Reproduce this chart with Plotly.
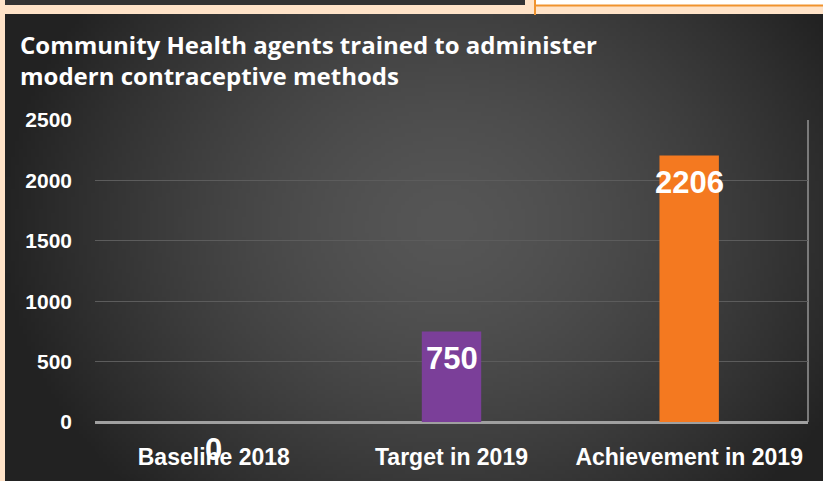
import base64, struct, zlib
import numpy as np
import plotly.graph_objects as go

categories = ["Baseline 2018", "Target in 2019", "Achievement in 2019"]
values = [0, 750, 2206]
value_labels = ["0", "750", "2206"]
bar_colors = ["#7B3F99", "#7B3F99", "#F47920"]
y_ticks = [0, 500, 1000, 1500, 2000, 2500]
title_text = "Community Health agents trained to administer<br>modern contraceptive methods"

W, H = 823, 481
ML, MR, MT, MB = 95, 15, 120, 59
PW, PH = W - ML - MR, H - MT - MB


def px_x(x):
    return (x - ML) / PW


def px_y(y):
    return (H - MB - y) / PH


# radial gradient background image
gw, gh = 206, 117
xs = np.linspace(0, 818, gw)[None, :]
ys = np.linspace(0, 467, gh)[:, None]
cx, cy = 440, 210
d = np.sqrt(((xs - cx) / 450) ** 2 + ((ys - cy) / 380) ** 2)
d = np.clip(d, 0, 1)
c = (86 - (86 - 34) * d ** 1.5).astype(np.uint8)
img = np.stack([c, c, c], axis=-1)
raw = b"".join(b"\x00" + img[r].tobytes() for r in range(gh))


def chunk(t, data):
    ck = struct.pack(">I", len(data)) + t + data
    return ck + struct.pack(">I", zlib.crc32(t + data) & 0xFFFFFFFF)


png = b"\x89PNG\r\n\x1a\n" + chunk(b"IHDR", struct.pack(">IIBBBBB", gw, gh, 8, 2, 0, 0, 0)) \
    + chunk(b"IDAT", zlib.compress(raw, 9)) + chunk(b"IEND", b"")
uri = "data:image/png;base64," + base64.b64encode(png).decode()

fig = go.Figure()
fig.add_trace(go.Bar(
    x=categories, y=values, width=0.25,
    marker=dict(color=bar_colors, line=dict(width=0)),
    hoverinfo="skip",
))

for cat, v, lab in zip(categories, values, value_labels):
    fig.add_annotation(x=cat, y=v, text=lab, showarrow=False, yshift=-27,
                       xanchor="center", yanchor="middle",
                       font=dict(family="Liberation Sans", size=31, color="white", weight="bold"))

fig.add_annotation(xref="paper", yref="paper", x=px_x(18), y=px_y(26), text=title_text,
                   showarrow=False, xanchor="left", yanchor="top", align="left",
                   font=dict(family="Open Sans", size=24, color="white", weight="bold"))

shapes = [
    dict(type="rect", xref="paper", yref="paper", x0=px_x(5), x1=px_x(525), y0=px_y(0), y1=px_y(5),
         fillcolor="#333333", line=dict(width=0), layer="below"),
    dict(type="rect", xref="paper", yref="paper", x0=px_x(536), x1=px_x(823), y0=px_y(0), y1=px_y(5),
         fillcolor="#ffffff", line=dict(width=0), layer="below"),
    dict(type="line", xref="paper", yref="paper", x0=px_x(536), x1=px_x(823), y0=px_y(5.5), y1=px_y(5.5),
         line=dict(color="#F0932E", width=2), layer="below"),
    dict(type="line", xref="paper", yref="paper", x0=px_x(535), x1=px_x(535), y0=px_y(0), y1=px_y(15),
         line=dict(color="#F0932E", width=2), layer="below"),
    dict(type="line", xref="paper", yref="paper", x0=1, x1=1, y0=0, y1=1,
         line=dict(color="#7a7a7a", width=2), layer="below"),
]

fig.update_layout(
    width=W, height=H,
    margin=dict(l=ML, r=MR, t=MT, b=MB),
    paper_bgcolor="#FFE3C8",
    plot_bgcolor="rgba(0,0,0,0)",
    showlegend=False,
    bargap=0.75,
    shapes=shapes,
    images=[dict(source=uri, xref="paper", yref="paper", x=px_x(5), y=px_y(14),
                 sizex=820 / PW, sizey=470 / PH, sizing="stretch",
                 xanchor="left", yanchor="top", layer="below")],
    xaxis=dict(showgrid=False, showline=False, ticks="", ticklabelstandoff=19, automargin=False,
               tickfont=dict(family="Liberation Sans", size=23, color="white", weight="bold")),
    yaxis=dict(range=[0, 2500], tickvals=y_ticks, showgrid=True, gridcolor="#5c5c5c", gridwidth=1,
               zeroline=True, zerolinecolor="#a0a0a0", zerolinewidth=2.5, showline=False,
               ticklabelstandoff=22, automargin=False,
               tickfont=dict(family="Liberation Sans", size=21, color="white", weight="bold")),
)

fig.write_html("out.html", config={"displayModeBar": False},
               post_script="document.body.style.margin='0';")
